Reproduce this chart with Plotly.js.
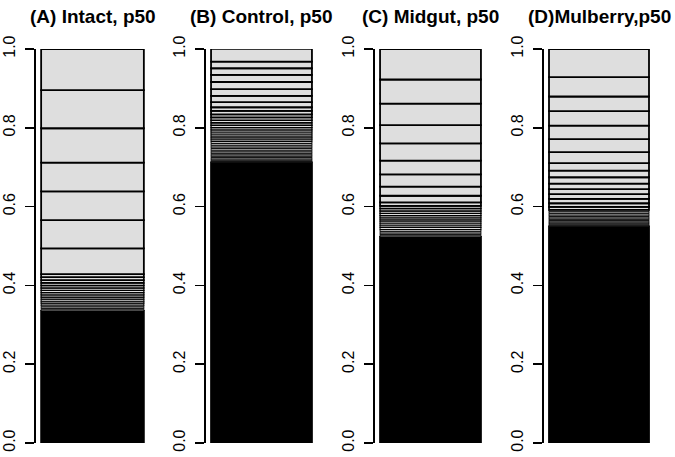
<!DOCTYPE html>
<html>
<head>
<meta charset="utf-8">
<script src="https://cdn.plot.ly/plotly-3.0.1.min.js"></script>
<style>html,body{margin:0;padding:0;background:#fff}#chart{width:675px;height:457px}</style>
</head>
<body>
<div id="chart"></div>
<script>
// Panel titles
const panelTitles = ["(A) Intact, p50", "(B) Control, p50", "(C) Midgut, p50", "(D)Mulberry,p50"];

// Segment proportions, listed from the top of each bar downwards.
const intactSizes = [0.104, 0.097, 0.087, 0.073, 0.073, 0.072, 0.065,
  0.0080, 0.0074, 0.0070, 0.0066, 0.0063, 0.0061, 0.0059, 0.0057, 0.0055,
  0.0053, 0.0051, 0.0049, 0.0047, 0.0045, 0.0040, 0.0036, 0.0032];
const controlSizes = [0.032, 0.017, 0.017, 0.018, 0.018, 0.017, 0.016, 0.013,
  0.009, 0.009, 0.008, 0.007, 0.0065, 0.0062, 0.006, 0.0058, 0.0053, 0.005,
  0.005, 0.0049, 0.0048, 0.0047, 0.0046, 0.0045, 0.0044, 0.0042, 0.0041,
  0.004, 0.0039, 0.0038, 0.0036, 0.0035, 0.0034, 0.0032, 0.003, 0.0028];
const midgutSizes = [0.077, 0.061, 0.055, 0.046, 0.044, 0.035, 0.031, 0.023,
  0.017, 0.009, 0.0065, 0.0062, 0.006, 0.0058, 0.0055, 0.0052, 0.005, 0.005,
  0.0049, 0.0048, 0.0047, 0.0046, 0.0042, 0.0038, 0.0034, 0.003];
const mulberrySizes = [0.071, 0.049, 0.037, 0.037, 0.034, 0.033, 0.028, 0.019,
  0.017, 0.016, 0.014, 0.013, 0.012, 0.011, 0.009, 0.008,
  0.0045, 0.0042, 0.004, 0.0038, 0.0036, 0.0035, 0.0034, 0.0032, 0.003,
  0.0029, 0.0028, 0.0026];

// Pooled share of the many tiny segments at the bottom (appear solid black)
const restShares = [0.335, 0.712, 0.523, 0.55];

// Y-axis ticks
const tickValues = [0, 0.2, 0.4, 0.6, 0.8, 1.0];
const tickLabels = ["0.0", "0.2", "0.4", "0.6", "0.8", "1.0"];

const panelSizes = [intactSizes, controlSizes, midgutSizes, mulberrySizes];
const domains = [[36/675, 149/675], [206/675, 317/675], [375/675, 486/675], [544/675, 654/675]];
const plotHeightPx = 457 - 49 - 14;

const traces = [];
const layout = {
  width: 675, height: 457,
  margin: {l: 0, r: 0, t: 49, b: 14},
  paper_bgcolor: "#ffffff", plot_bgcolor: "#ffffff",
  showlegend: false, barmode: "overlay",
  font: {family: "Liberation Sans, Arial, sans-serif", color: "#000"},
  annotations: []
};

panelSizes.forEach((sizes, i) => {
  const n = i + 1;
  const xa = n === 1 ? "x" : "x" + n;
  const ya = n === 1 ? "y" : "y" + n;
  // bottom-up: pooled rest first, then listed segments reversed
  const ys = [restShares[i]].concat(sizes.slice().reverse());
  const colors = ["#000000"].concat(sizes.map(() => "#dedede"));
  // slightly thinner outlines on very thin segments so the shading gradient shows
  const lw = ys.map((v, k) => k === 0 ? 1.8 : Math.min(1.8, Math.max(0.9, v * plotHeightPx * 0.55)));
  const bases = [];
  let acc = 0;
  ys.forEach(v => { bases.push(acc); acc += v; });
  traces.push({
    type: "bar", x: ys.map(() => 0), y: ys, base: bases, width: 1,
    xaxis: xa, yaxis: ya,
    marker: {color: colors, line: {color: "#000", width: lw}},
    hoverinfo: "skip"
  });
  layout["xaxis" + (n === 1 ? "" : n)] = {
    domain: domains[i], range: [-0.55, 0.55], visible: false, fixedrange: true, anchor: ya
  };
  layout["yaxis" + (n === 1 ? "" : n)] = {
    domain: [0, 1], range: [0, 1], anchor: xa,
    showline: true, linecolor: "#000", linewidth: 1.6,
    showgrid: false, zeroline: false,
    ticks: "outside", ticklen: 9, tickwidth: 1.6, tickcolor: "#000",
    ticklabelstandoff: 4,
    tickvals: tickValues, ticktext: tickLabels, tickangle: -90,
    tickfont: {size: 16, family: "Liberation Sans, Arial, sans-serif", color: "#000"},
    fixedrange: true
  };
  layout.annotations.push({
    text: "<b>" + panelTitles[i] + "</b>", xref: "paper", yref: "paper",
    x: (domains[i][0] * 675 + 5 + (domains[i][1] * 675 - 5)) / 2 / 675, y: 1,
    xanchor: "center", yanchor: "middle", yshift: 33, showarrow: false,
    font: {size: 19, family: "Liberation Sans, Arial, sans-serif", color: "#000"}
  });
});

Plotly.newPlot("chart", traces, layout, {staticPlot: true, displayModeBar: false});
</script>
</body>
</html>
